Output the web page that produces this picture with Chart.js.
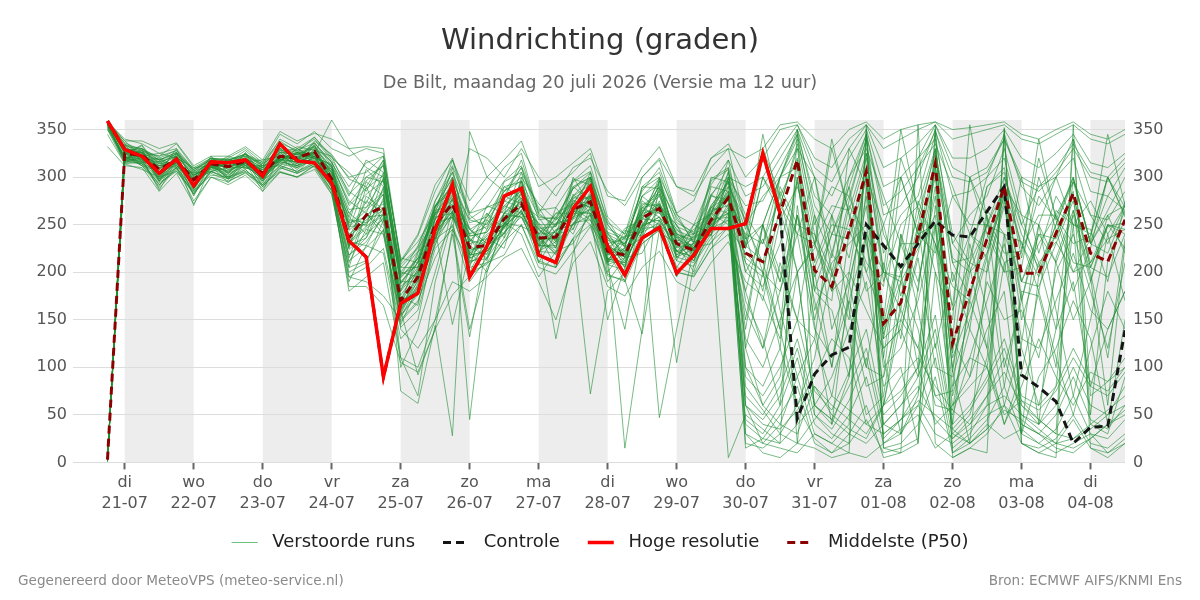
<!DOCTYPE html>
<html>
<head>
<meta charset="utf-8">
<script src="https://cdn.jsdelivr.net/npm/chart.js@4.4.1/dist/chart.umd.min.js"></script>
<style>
  html, body { margin: 0; padding: 0; background: #ffffff; }
  #wrap { position: relative; width: 1200px; height: 600px; }
  .foot { position: absolute; top: 572px; font-family: "DejaVu Sans", sans-serif; font-size: 13.6px; color: #8a8a8a; line-height: 16px; white-space: nowrap; }
  #footL { left: 18px; }
  #footR { right: 18px; }
</style>
</head>
<body>
<div id="wrap">
  <canvas id="chart" width="1200" height="600"></canvas>
  <div class="foot" id="footL">Gegenereerd door MeteoVPS (meteo-service.nl)</div>
  <div class="foot" id="footR">Bron: ECMWF AIFS/KNMI Ens</div>
</div>
<script>
// ---------- DATA (6-hourly, first value = 20-07 18:00, hours relative to 21-07 00:00) ----------
const firstHour = -6;
const stepHours = 6;

const dayNames   = ['di','wo','do','vr','za','zo','ma','di','wo','do','vr','za','zo','ma','di'];
const dateLabels = ['21-07','22-07','23-07','24-07','25-07','26-07','27-07','28-07','29-07','30-07','31-07','01-08','02-08','03-08','04-08'];
const shadedDays = [0, 2, 4, 6, 8, 10, 12, 14];
const yTickValues = [0, 50, 100, 150, 200, 250, 300, 350];

const hogeResolutie = [359,329,322,304,319,291,316,315,318,301,335,317,315,294,233,216,90,167,178,245,292,195,227,280,288,218,210,267,290,227,197,236,247,199,218,246,246,251,325,262];

const controle = [359,329,322,304,319,291,316,315,318,301,335,317,315,294,233,216,90,167,178,245,292,195,227,280,288,218,210,267,290,227,197,236,247,199,218,246,246,251,325,262,46,93,113,121,250,228,206,230,254,239,237,264,290,92,79,64,20,37,38,139];

const middelste = [3,325,323,308,318,297,314,311,317,304,322,320,327,298,236,260,269,170,195,250,272,226,228,256,272,236,237,266,274,222,218,257,267,230,223,255,278,220,211,262,318,202,185,243,306,146,168,239,314,125,180,235,290,199,199,241,283,220,211,255];

const member01 = [356,318,330,296,325,300,305,316,309,312,316,330,318,306,262,248,300,188,215,232,300,215,255,240,296,228,250,258,290,210,232,245,288,215,240,250,300,228,250,300,330,210,260,215,300,250,175,250,330,190,240,215,290,260,200,250,300,230,260,270];
const member02 = [359,335,322,318,312,295,322,305,326,300,334,318,338,324,298,290,318,160,200,270,285,246,230,290,278,250,225,300,270,238,205,280,265,250,215,290,285,60,40,35,55,80,60,45,30,60,90,110,80,55,40,70,95,60,45,30,25,40,55,70];
const member03 = [350,322,312,290,320,280,314,298,318,290,308,322,310,285,205,262,240,145,185,228,278,200,236,225,285,210,240,245,282,200,225,236,270,205,232,240,300,215,200,180,260,195,240,280,230,140,200,230,305,160,210,250,240,190,230,260,210,205,250,240];
const member04 = [358,340,335,325,330,308,318,320,330,315,345,335,348,330,322,330,325,210,238,285,320,262,285,310,325,262,290,305,325,258,240,300,318,262,275,320,330,250,280,300,340,260,215,300,330,280,230,310,335,290,240,300,320,250,290,300,250,275,240,270];
const member05 = [2,316,318,288,310,275,300,295,305,288,305,300,312,282,190,228,220,130,150,235,248,190,215,252,240,195,222,230,262,190,215,220,255,195,226,230,262,180,120,210,150,130,70,170,100,90,160,120,230,70,140,100,210,120,60,140,190,80,140,180];
const member06 = [355,328,316,312,322,302,310,318,312,308,318,325,322,312,275,262,305,200,195,265,270,245,226,275,268,252,232,282,262,242,215,275,262,246,220,282,268,40,25,20,350,50,30,20,355,25,45,60,30,20,35,50,60,40,30,20,15,25,40,50];
const member07 = [357,324,333,305,330,292,318,308,324,298,330,312,334,296,252,308,290,205,225,255,310,225,270,262,305,235,262,262,305,222,246,255,300,226,250,262,318,225,300,270,335,240,200,275,340,200,190,320,340,240,210,290,310,215,280,255,300,230,265,300];
const member08 = [345,314,308,300,306,285,302,300,306,296,312,306,314,290,200,210,255,175,165,245,145,222,200,252,248,240,205,265,250,222,190,258,242,230,200,262,250,100,80,120,60,90,130,110,40,60,150,120,70,50,110,100,40,80,130,90,60,95,85,110];
const member09 = [3,330,325,312,316,302,316,312,320,306,326,314,328,298,236,275,262,182,205,246,282,210,245,270,262,246,226,276,268,228,210,268,258,238,215,268,262,210,170,255,290,230,180,200,305,145,230,180,312,210,175,250,288,230,195,240,282,205,248,252];
const member10 = [356,317,320,286,318,270,312,294,315,285,322,304,325,288,218,236,278,155,178,258,262,236,218,262,282,220,245,250,285,212,238,242,282,218,238,245,290,200,235,190,300,160,210,230,250,135,190,225,260,100,200,220,280,150,210,232,200,210,235,245];
const member11 = [358,336,328,322,335,310,320,316,328,312,340,330,342,320,305,285,318,215,210,270,290,255,250,285,300,272,255,288,300,250,228,290,305,255,240,298,310,120,60,90,200,60,40,90,240,40,30,70,250,30,50,110,240,60,40,80,250,40,30,90];
const member12 = [4,321,315,315,310,305,306,320,310,310,312,326,316,308,226,280,266,165,220,262,268,240,262,246,290,232,258,240,280,236,222,262,290,238,226,270,295,235,250,300,350,270,240,290,345,260,270,300,350,280,285,300,345,290,270,300,340,285,280,310];
const member13 = [357,326,312,294,306,284,304,296,304,292,306,300,312,290,180,195,210,110,100,150,190,180,195,215,225,190,150,210,232,185,175,205,222,190,180,210,232,190,175,130,260,170,100,200,160,120,140,90,270,130,90,190,150,160,110,200,240,180,120,210];
const member14 = [359,338,338,330,336,312,322,322,332,318,348,338,346,340,330,332,330,212,240,292,318,275,300,318,338,290,300,315,330,280,275,310,332,290,285,320,335,300,320,350,355,320,310,340,355,330,340,350,358,340,345,350,355,340,335,345,355,340,335,345];
const member15 = [1,320,328,300,324,288,316,304,322,296,328,316,332,300,258,240,290,190,190,258,296,218,240,250,296,226,252,256,296,218,234,248,286,222,236,246,296,60,20,15,10,30,20,10,5,20,35,50,15,30,20,40,25,35,20,10,20,30,10,25];
const member16 = [2,332,318,316,314,300,320,310,316,310,318,326,322,312,245,295,280,170,212,262,276,245,230,280,272,258,232,290,275,240,218,272,270,250,222,280,276,240,230,280,320,230,195,255,320,200,195,260,325,215,200,250,300,240,205,250,295,230,220,265];
const member17 = [354,315,322,298,310,288,312,300,310,302,314,310,318,292,195,190,175,150,170,215,250,200,208,232,262,212,205,236,260,150,205,236,250,105,208,236,255,130,100,150,200,60,90,140,190,80,100,20,200,60,90,140,180,30,90,120,170,130,40,150];
const member18 = [358,330,325,318,326,306,314,318,322,312,332,320,336,315,285,272,315,196,228,268,305,232,258,290,295,240,262,272,300,226,238,262,296,232,245,262,305,260,230,300,345,250,290,280,340,220,260,280,345,230,260,280,330,260,250,300,320,260,255,285];
const member19 = [5,319,316,298,312,292,308,302,312,298,316,312,320,296,228,236,268,158,196,240,260,215,222,242,262,234,220,262,262,212,208,250,255,222,212,250,262,45,30,60,110,40,25,50,90,20,30,60,110,15,30,60,345,40,30,50,90,45,35,60];
const member20 = [352,318,314,292,308,282,306,298,306,290,310,304,312,286,185,185,165,105,95,140,176,196,210,218,250,205,198,222,248,196,192,135,244,200,196,225,248,220,200,120,300,180,160,90,290,120,140,215,100,90,150,215,80,180,175,100,265,200,110,235];
const member21 = [358,334,330,320,328,306,320,318,324,314,336,328,340,318,290,315,322,208,226,275,312,262,268,296,312,265,268,296,312,252,240,285,310,260,250,292,318,280,290,320,350,300,280,320,350,290,300,320,355,310,300,310,340,300,290,310,335,305,300,320];
const member22 = [355,326,314,306,318,296,314,310,318,304,322,322,326,302,232,228,262,170,180,250,258,228,215,260,258,238,218,268,255,225,205,260,250,232,212,255,258,20,15,30,60,25,10,20,45,10,15,25,350,10,20,35,352,20,15,25,50,20,15,30];
const member23 = [1,328,330,314,325,304,316,315,325,310,330,318,336,312,272,296,312,195,215,268,300,245,255,280,310,255,258,288,305,242,235,280,298,248,240,280,310,250,210,285,240,230,270,265,325,190,250,270,330,210,215,290,305,225,260,260,295,260,230,270];
const member24 = [332,312,310,285,304,272,300,292,302,285,305,300,308,282,195,205,225,142,160,225,245,140,205,232,250,210,205,235,250,198,190,230,244,205,198,232,248,160,120,180,240,140,110,170,240,100,120,170,250,80,110,170,230,130,120,170,220,160,140,180];
const member25 = [3,322,326,310,315,298,318,308,314,305,320,324,324,308,248,250,275,176,200,244,278,222,234,250,278,230,244,260,282,218,225,250,272,226,230,250,285,30,10,5,20,15,5,10,350,15,10,20,355,5,15,10,350,20,10,5,355,15,10,20];
const member26 = [358,338,322,325,320,310,312,322,316,318,322,332,328,322,300,305,322,212,232,262,318,256,268,276,318,262,248,298,292,250,226,290,288,258,232,300,295,210,195,300,310,180,240,235,300,130,230,230,310,115,240,225,285,190,240,235,280,210,250,245];
const member27 = [356,316,324,295,318,282,315,298,316,292,318,310,322,290,210,245,240,152,188,236,268,208,228,240,270,222,232,250,272,208,215,242,265,216,224,240,272,90,70,100,150,75,55,95,140,50,70,100,155,40,60,90,130,70,60,80,120,85,75,100];
const member28 = [2,324,334,308,326,296,318,312,324,304,330,318,334,304,258,300,295,198,206,268,292,232,252,265,292,240,255,272,298,230,235,262,290,236,240,262,298,270,275,310,345,280,260,300,345,270,285,310,348,300,295,305,340,295,285,305,330,300,295,315];
const member29 = [354,322,312,306,312,296,306,310,310,304,314,320,316,300,218,232,258,156,192,238,270,214,226,246,270,236,222,264,262,222,206,256,254,230,212,254,262,150,250,190,260,150,220,190,270,110,240,190,280,95,210,200,270,170,240,210,260,190,250,225];
const member30 = [4,330,320,316,322,302,312,316,320,310,326,324,330,310,266,268,298,190,210,262,286,238,242,270,286,248,236,278,278,234,218,268,272,242,222,268,280,70,50,80,130,60,45,80,120,40,60,90,140,35,55,85,120,65,55,75,110,80,70,95];
const member31 = [1,325,323,309,318,297,313,311,317,304,322,319,326,304,248,265,282,75,62,144,28,348,300,285,310,260,250,280,300,240,230,265,280,240,232,262,285,225,300,260,20,205,250,245,200,150,300,240,250,130,300,240,200,205,300,245,180,225,300,258];
const member32 = [355,320,326,302,320,290,315,305,318,298,322,314,326,298,240,255,268,100,140,200,265,45,200,250,270,235,235,265,275,220,15,140,300,230,225,255,280,200,185,230,295,185,170,330,290,130,150,220,300,110,160,220,280,190,185,230,275,205,195,240];
const member33 = [358,330,322,314,316,302,312,315,316,308,320,326,325,360,330,310,300,185,200,255,280,230,235,262,278,240,242,272,280,226,222,260,272,234,228,260,282,30,20,40,90,30,20,40,345,15,20,40,90,10,25,45,80,30,20,35,70,30,25,45];
const member34 = [356,324,322,308,318,296,313,310,316,303,321,318,325,302,244,260,272,110,70,190,255,330,320,300,330,300,280,310,320,285,270,300,320,290,280,310,330,320,330,355,358,340,330,350,358,340,350,355,358,350,352,355,358,345,340,350,358,345,340,350];
const member35 = [3,326,324,310,319,298,314,311,318,305,323,320,327,305,250,268,285,140,120,150,240,132,230,258,275,236,130,220,270,225,220,258,270,232,226,258,280,238,180,270,330,300,200,150,325,240,200,100,328,230,205,120,300,250,210,140,298,232,280,265];
const member36 = [353,321,319,304,315,293,310,307,314,301,319,316,322,298,232,248,262,165,190,248,270,224,226,254,270,234,236,264,272,220,216,254,47,140,225,250,5,50,35,20,40,60,45,30,20,40,60,80,45,25,40,60,70,50,35,20,25,35,50,60];
const member37 = [2,334,316,320,312,304,308,318,312,312,316,330,320,314,225,290,250,180,222,235,290,205,262,236,300,218,268,245,300,210,244,238,296,212,250,238,306,230,320,270,240,300,220,290,200,250,300,240,220,280,250,250,200,300,220,280,250,240,300,260];
const member38 = [356,318,328,298,322,286,316,300,320,294,326,310,330,296,238,252,266,160,92,140,245,210,220,248,265,220,210,235,72,180,200,230,245,200,195,225,240,180,250,200,150,260,140,190,100,210,130,250,120,200,140,260,100,170,250,210,150,190,260,220];
const member39 = [359,332,330,318,326,306,318,318,324,312,330,328,336,316,280,318,305,205,205,275,305,260,245,295,305,268,240,295,306,255,226,288,300,262,230,296,308,100,60,40,30,80,50,35,25,60,75,100,40,60,80,100,50,65,45,30,340,70,85,100];
const member40 = [5,318,324,296,320,288,312,302,316,296,320,308,322,292,215,262,246,170,176,252,258,235,212,262,258,222,244,250,280,210,226,244,275,218,230,245,280,170,130,60,270,145,40,185,280,110,30,185,290,95,20,205,275,175,40,215,265,195,60,230];
const member41 = [3,328,318,312,314,302,310,314,314,308,318,324,320,310,255,252,288,166,204,245,285,220,238,250,285,245,230,275,268,230,212,265,262,240,218,265,270,235,345,265,200,230,340,260,180,200,350,265,200,150,355,255,210,220,340,255,200,235,345,270];
const member42 = [350,314,316,292,310,282,306,298,308,290,310,304,314,286,205,212,245,148,168,230,262,205,210,236,266,218,212,252,255,206,140,246,248,212,206,246,255,60,45,70,120,50,35,65,110,30,45,75,125,25,45,70,110,50,40,60,100,60,50,80];
const member43 = [1,330,328,318,324,308,318,316,322,314,328,326,332,316,270,288,302,194,214,265,292,240,248,274,290,250,250,280,292,236,230,270,284,244,236,270,294,245,330,280,200,225,330,262,210,185,320,268,230,165,300,258,220,222,320,258,230,238,300,268];
const member44 = [356,320,324,300,320,290,314,304,318,298,322,312,326,296,228,258,260,162,198,242,276,218,232,248,276,228,240,258,278,214,222,248,270,222,226,246,282,120,200,140,60,110,200,130,50,70,190,140,60,55,170,120,40,95,180,110,50,120,180,140];
const member45 = [2,334,326,322,328,308,320,318,324,316,338,326,342,322,282,300,312,200,222,270,298,252,258,285,296,258,256,290,300,246,236,280,292,252,242,282,300,290,300,330,355,310,295,330,355,310,320,335,355,320,320,330,350,320,310,325,345,315,310,325];
const member46 = [355,320,322,302,318,292,312,306,316,300,318,316,322,297,224,240,256,160,184,242,264,218,222,248,264,228,226,256,266,214,210,248,258,222,216,246,266,15,25,50,80,20,10,30,60,5,10,355,20,5,15,30,60,20,10,20,45,15,5,20];
const member47 = [4,326,320,312,316,300,310,314,314,308,318,322,322,308,252,258,282,180,202,256,272,234,228,262,272,244,234,272,274,228,216,262,266,236,222,262,278,228,212,140,318,200,100,242,310,60,168,238,316,40,178,236,292,30,198,242,285,50,212,256];
const member48 = [352,316,314,296,310,286,306,300,308,292,312,306,316,290,212,226,244,154,176,236,258,212,214,242,258,222,220,250,260,208,202,242,252,216,210,240,258,140,250,160,90,130,260,160,80,90,240,160,70,75,230,160,60,125,250,160,70,150,240,170];
const member49 = [3,330,326,316,322,304,316,316,320,310,326,324,332,310,262,282,296,188,210,260,286,238,242,268,286,246,248,278,288,234,228,268,282,240,234,268,290,255,200,290,250,240,180,270,240,200,160,275,230,185,170,265,240,232,180,265,250,245,190,275];
const member50 = [2,319,318,300,314,290,310,304,312,298,316,312,320,296,230,246,260,162,186,242,264,218,222,248,264,228,228,258,266,214,210,248,258,222,216,246,268,80,55,30,20,45,70,55,40,30,45,65,50,35,20,35,55,45,30,15,10,25,40,55];

const members = [member01,member02,member03,member04,member05,member06,member07,member08,member09,member10,
  member11,member12,member13,member14,member15,member16,member17,member18,member19,member20,
  member21,member22,member23,member24,member25,member26,member27,member28,member29,member30,
  member31,member32,member33,member34,member35,member36,member37,member38,member39,member40,
  member41,member42,member43,member44,member45,member46,member47,member48,member49,member50];

// ---------- helpers ----------
function toPoints(values) {
  return values.map((v, i) => ({ x: firstHour + stepHours * i, y: v }));
}
const lastHour = firstHour + stepHours * (middelste.length - 1);
const dayTickHours = dateLabels.map((_, k) => k * 24);

const COL_MEMBER = 'rgba(32,142,52,0.6)';
const COL_CTRL = '#151515';
const COL_HRES = '#ff0000';
const COL_P50 = '#8b0000';

const datasets = [
  { label: 'Hoge resolutie', data: toPoints(hogeResolutie), borderColor: COL_HRES, borderWidth: 3.5, pointRadius: 0, tension: 0, fill: false },
  { label: 'Middelste (P50)', data: toPoints(middelste), borderColor: COL_P50, borderWidth: 3, borderDash: [8, 5], pointRadius: 0, tension: 0, fill: false },
  { label: 'Controle', data: toPoints(controle), borderColor: COL_CTRL, borderWidth: 3, borderDash: [8, 5], pointRadius: 0, tension: 0, fill: false },
];
members.forEach((m) => {
  datasets.push({ label: 'Verstoorde runs', data: toPoints(m), borderColor: COL_MEMBER, borderWidth: 1, pointRadius: 0, tension: 0, fill: false });
});

const shadePlugin = {
  id: 'dayShade',
  beforeDraw(chart) {
    const { ctx, chartArea: a, scales: { x } } = chart;
    ctx.save();
    ctx.fillStyle = '#ededed';
    shadedDays.forEach(d => {
      let x0 = x.getPixelForValue(d * 24);
      let x1 = x.getPixelForValue(d * 24 + 24);
      x0 = Math.max(x0, a.left);
      x1 = Math.min(x1, a.right);
      if (x1 > x0) ctx.fillRect(x0, a.top, x1 - x0, a.bottom - a.top);
    });
    ctx.restore();
  }
};

Chart.defaults.font.family = "'DejaVu Sans', sans-serif";

const legendItems = [
  { name: 'Verstoorde runs', color: 'rgba(60,170,80,0.75)', width: 1, dash: [] },
  { name: 'Controle', color: COL_CTRL, width: 3, dash: [8, 5] },
  { name: 'Hoge resolutie', color: COL_HRES, width: 3.5, dash: [] },
  { name: 'Middelste (P50)', color: COL_P50, width: 3, dash: [8, 5] }
];

new Chart(document.getElementById('chart'), {
  type: 'line',
  data: { datasets },
  plugins: [shadePlugin],
  options: {
    responsive: false,
    animation: false,
    devicePixelRatio: 1,
    events: [],
    layout: { padding: { left: 0, right: 0, top: 0, bottom: 38.5 } },
    scales: {
      x: {
        type: 'linear',
        min: firstHour - 12,
        max: lastHour,
        afterBuildTicks: s => { s.ticks = dayTickHours.map(v => ({ value: v })); },
        ticks: {
          autoSkip: false, maxRotation: 0, minRotation: 0, padding: 3, color: '#555555',
          font: { size: 16, lineHeight: 1.3 },
          callback: (v) => { const k = Math.round(v / 24); return [dayNames[k], dateLabels[k]]; }
        },
        grid: { drawOnChartArea: false, drawTicks: true, tickLength: 7, tickColor: '#666666', tickWidth: 2 },
        border: { display: false }
      },
      y: {
        position: 'left', min: 0, max: 360,
        afterBuildTicks: s => { s.ticks = yTickValues.map(v => ({ value: v })); },
        afterFit: s => { s.width = 73; },
        ticks: { color: '#555555', font: { size: 16 }, padding: 6 },
        grid: { color: '#dddddd', lineWidth: 1, drawTicks: false },
        border: { display: false }
      },
      y2: {
        position: 'right', min: 0, max: 360,
        afterBuildTicks: s => { s.ticks = yTickValues.map(v => ({ value: v })); },
        afterFit: s => { s.width = 75; },
        ticks: { color: '#555555', font: { size: 16 }, padding: 8 },
        grid: { display: false, drawTicks: false },
        border: { display: false }
      }
    },
    plugins: {
      title: {
        display: true, text: 'Windrichting (graden)', color: '#333333',
        font: { size: 29, weight: 'normal' }, padding: { top: 24, bottom: 0 }
      },
      subtitle: {
        display: true, text: 'De Bilt, maandag 20 juli 2026 (Versie ma 12 uur)', color: '#666666',
        font: { size: 17.7, weight: 'normal' }, padding: { top: 14, bottom: 26 }
      },
      tooltip: { enabled: false },
      legend: {
        position: 'bottom',
        labels: {
          usePointStyle: true, pointStyleWidth: 26, boxWidth: 26, boxHeight: 17,
          padding: 16.5, color: '#222222', font: { size: 18 },
          generateLabels: () => legendItems.map((it, i) => ({
            text: ' ' + it.name + (i < legendItems.length - 1 ? '  ' : ''), strokeStyle: it.color, fillStyle: 'rgba(0,0,0,0)',
            lineWidth: it.width, lineDash: it.dash, pointStyle: 'line', hidden: false, fontColor: '#222222'
          }))
        }
      }
    }
  }
});
</script>
</body>
</html>
